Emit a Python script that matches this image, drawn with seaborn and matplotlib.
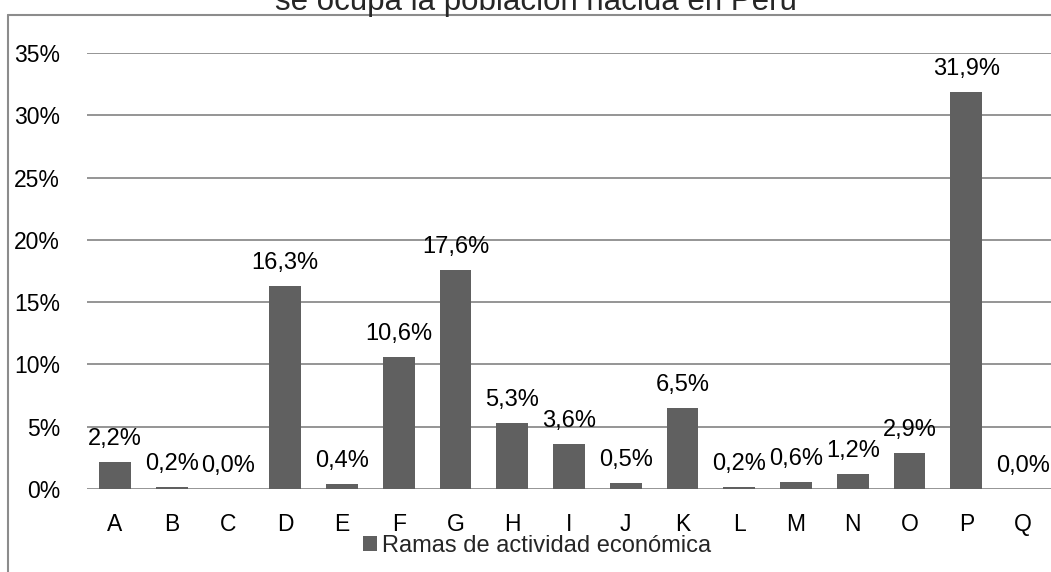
import matplotlib
matplotlib.use("Agg")
import matplotlib.pyplot as plt
import seaborn as sns
from matplotlib.lines import Line2D

# values (percent of population by branch of activity)
categories = ["A", "B", "C", "D", "E", "F", "G", "H", "I", "J", "K", "L", "M", "N", "O", "P", "Q"]
shares = [2.2, 0.2, 0.0, 16.3, 0.4, 10.6, 17.6, 5.3, 3.6, 0.5, 6.5, 0.2, 0.6, 1.2, 2.9, 31.9, 0.0]
y_ticks = [0, 5, 10, 15, 20, 25, 30, 35]
series_name = "Ramas de actividad económica"
title = "se ocupa la población nacida en Perú"

BAR = "#606060"
GRID = "#8c8c8c"

sns.set_theme(style="white")
plt.rcParams["font.family"] = ["Liberation Sans", "DejaVu Sans"]

fig = plt.figure(figsize=(10.51, 5.72), dpi=100)
ax = fig.add_axes([0.0824, 0.1451, 0.918, 0.7622])

sns.barplot(x=categories, y=shares, color=BAR, width=0.56, saturation=1,
            edgecolor=BAR, linewidth=0, label=series_name, ax=ax, zorder=3)
if ax.get_legend() is not None:
    ax.get_legend().remove()

ax.set_xlim(-0.5, len(categories) - 0.5)
ax.set_ylim(0, 35)
ax.set_yticks(y_ticks)
ax.set_yticklabels([f"{v}%" for v in y_ticks])
ax.yaxis.grid(True, color=GRID, lw=1.3)
ax.set_axisbelow(True)
for s in ax.spines.values():
    s.set_visible(False)
ax.tick_params(axis="y", length=0, pad=19, labelsize=16.5, colors="black")
ax.tick_params(axis="x", length=0, pad=17, labelsize=16.5, colors="black")
ax.set_xlabel("")
ax.set_ylabel("")

# data labels with comma decimals
for i, v in enumerate(shares):
    ax.annotate(f"{v:.1f}".replace(".", ",") + "%", (i, v),
                xytext=(0, 16.5), textcoords="offset points",
                ha="center", va="center", fontsize=17, color="black")

handles, labels = ax.get_legend_handles_labels()
fig.legend(handles, labels, loc="center", bbox_to_anchor=(537 / 1051, 1 - 546 / 572),
           frameon=False, fontsize=17, handlelength=0.6, handleheight=0.6,
           handletextpad=0.2, borderpad=0)

# title, mostly cut off at the top like in the reference
fig.text(536 / 1051, 1 - 10 / 572, title, ha="center", va="baseline", fontsize=22.5)

# chart frame (left and top edges visible)
fig.add_artist(Line2D([8 / 1051, 8 / 1051], [0, 1 - 15 / 572], color=GRID, lw=1.5))
fig.add_artist(Line2D([8 / 1051, 1], [1 - 15 / 572, 1 - 15 / 572], color=GRID, lw=1.5))

fig.savefig("out.png", dpi=100)
